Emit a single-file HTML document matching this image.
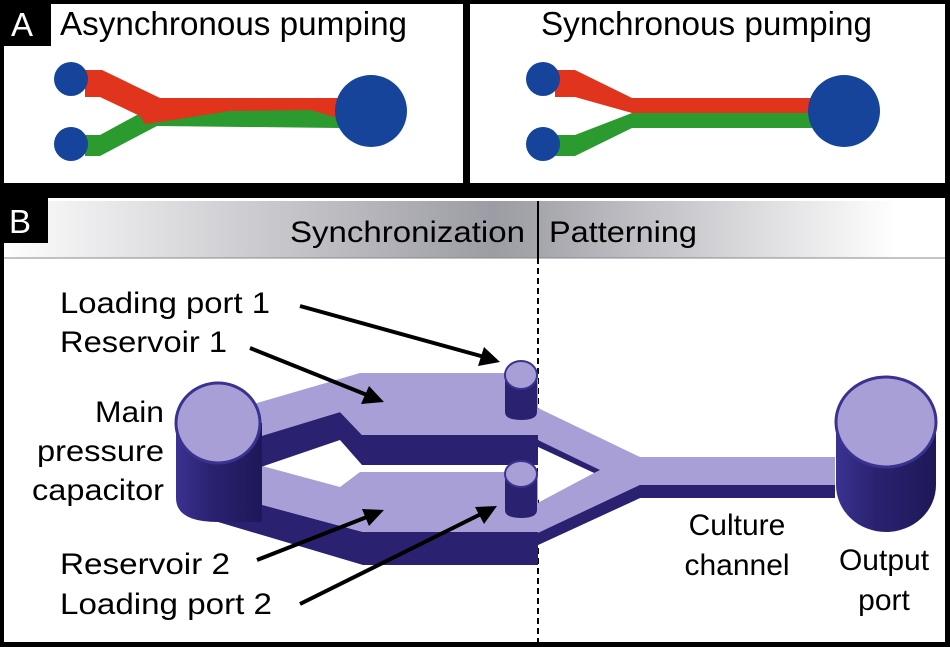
<!DOCTYPE html>
<html><head><meta charset="utf-8"><style>
html,body{margin:0;padding:0;background:#fff;}
svg{display:block;font-family:"Liberation Sans",sans-serif;}
</style></head><body>
<svg width="950" height="647" viewBox="0 0 950 647" xmlns="http://www.w3.org/2000/svg">
<defs>
<linearGradient id="hg" x1="0" x2="1" y1="0" y2="0">
<stop offset="0" stop-color="#ffffff"/>
<stop offset="0.05" stop-color="#f4f4f5"/>
<stop offset="0.52" stop-color="#9c9ca4"/>
<stop offset="0.57" stop-color="#a6a6ad"/>
<stop offset="0.95" stop-color="#ffffff"/>
<stop offset="1" stop-color="#ffffff"/>
</linearGradient>
<linearGradient id="cyl" x1="0" x2="1" y1="0" y2="0">
<stop offset="0" stop-color="#3a3290"/>
<stop offset="0.4" stop-color="#2a2270"/>
<stop offset="1" stop-color="#1e1858"/>
</linearGradient>
</defs>
<rect x="0" y="0" width="950" height="647" fill="#000"/>
<rect x="4" y="4" width="459" height="179" fill="#fff"/>
<rect x="470" y="4" width="475" height="179" fill="#fff"/>
<rect x="0" y="0" width="51" height="46" fill="#000"/>
<text x="11" y="36" font-size="33" fill="#fff">A</text>
<text x="60" y="35" font-size="33" fill="#000" textLength="347" lengthAdjust="spacingAndGlyphs">Asynchronous pumping</text>
<text x="541" y="35" font-size="33" fill="#000" textLength="331" lengthAdjust="spacingAndGlyphs">Synchronous pumping</text>
<polygon points="85,135 100,135 157,104 340,104 340,128 157,126 100,156 85,156" fill="#2b9a2f"/>
<polygon points="85,70 102,70 160,98 338,98 338,118 310,110 230,111 160,122 145,124 140,116 100,97 85,97" fill="#e0341c"/>
<circle cx="71" cy="79" r="17" fill="#15449a"/>
<circle cx="71" cy="144" r="17" fill="#15449a"/>
<circle cx="371" cy="111" r="36" fill="#15449a"/>
<polygon points="555,70 575,70 632,98 812,98 812,113 632,113 575,97 555,97" fill="#e0341c"/>
<polygon points="555,135 575,135 632,113 812,113 812,128 632,128 575,156 555,156" fill="#2b9a2f"/>
<circle cx="543" cy="79" r="17" fill="#15449a"/>
<circle cx="543" cy="144" r="17" fill="#15449a"/>
<circle cx="844" cy="111" r="36" fill="#15449a"/>
<rect x="4" y="198" width="941" height="444" fill="#fff"/>
<rect x="4" y="201" width="941" height="57" fill="url(#hg)"/>
<line x1="4" y1="258" x2="945" y2="258" stroke="#888" stroke-width="1"/>
<rect x="0" y="195" width="48" height="48" fill="#000"/>
<text x="9" y="233" font-size="33" fill="#fff">B</text>
<text x="525" y="242" font-size="30" text-anchor="end" textLength="235" lengthAdjust="spacingAndGlyphs">Synchronization</text>
<text x="549" y="242" font-size="30" textLength="148" lengthAdjust="spacingAndGlyphs">Patterning</text>
<line x1="538" y1="201" x2="538" y2="258" stroke="#000" stroke-width="2"/>
<line x1="538" y1="258" x2="538" y2="642" stroke="#000" stroke-width="2" stroke-dasharray="6,4"/>
<polygon points="538,438 600,470 538,503 538,545 640,498 640,485 640,457" fill="#2a2270"/>
<polygon points="538,408 640,457 835,457 835,485 640,485 538,533 538,503 600,470 538,440" fill="#a79fd6"/>
<polygon points="538,440 600,470 594,473 538,447" fill="#2a2270"/>
<polygon points="538,447 594,473 538,500" fill="#fff"/>
<rect x="640" y="485" width="195" height="13" fill="#2a2270"/>
<polygon points="538,533 640,485 640,498 538,545" fill="#2a2270"/>
<path d="M836,422 L836,485 A50,47 0 0 0 936,485 L936,422Z" fill="url(#cyl)"/>
<ellipse cx="886" cy="422" rx="50" ry="45" fill="#a79fd6" stroke="#3a3290" stroke-width="3"/>
<polygon points="218,493 363,532 538,532 538,565 363,565 218,522" fill="#2a2270"/>
<polygon points="240,460 340,487 360,472 538,472 538,532 363,532 218,493 230,470" fill="#a79fd6"/>
<polygon points="258,437 340,412 362,435 538,435 538,465 362,465 340,440 258,468" fill="#2a2270"/>
<polygon points="240,408 360,373 538,373 538,435 362,435 340,412 258,437" fill="#a79fd6"/>
<path d="M176,423 L176,498 Q176,522 218,522 L262,522 L262,423Z" fill="url(#cyl)"/>
<ellipse cx="218" cy="423" rx="42" ry="40" fill="#a79fd6" stroke="#3a3290" stroke-width="3"/>
<path d="M505,375 L505,412 Q505,420 521,420 Q537,420 537,412 L537,375Z" fill="#2a2270"/>
<ellipse cx="521" cy="375" rx="16" ry="14" fill="#a79fd6" stroke="#3a3290" stroke-width="2"/>
<path d="M505,474 L505,510 Q505,518 521,518 Q537,518 537,510 L537,474Z" fill="#2a2270"/>
<ellipse cx="521" cy="474" rx="16" ry="13" fill="#a79fd6" stroke="#3a3290" stroke-width="2"/>
<g font-size="30" fill="#000">
<text x="60" y="313" textLength="210" lengthAdjust="spacingAndGlyphs">Loading port 1</text>
<text x="60" y="352" textLength="167" lengthAdjust="spacingAndGlyphs">Reservoir 1</text>
<text x="95" y="422" textLength="69" lengthAdjust="spacingAndGlyphs">Main</text>
<text x="37" y="461" textLength="127" lengthAdjust="spacingAndGlyphs">pressure</text>
<text x="32" y="500" textLength="132" lengthAdjust="spacingAndGlyphs">capacitor</text>
<text x="60" y="574" textLength="170" lengthAdjust="spacingAndGlyphs">Reservoir 2</text>
<text x="60" y="614" textLength="212" lengthAdjust="spacingAndGlyphs">Loading port 2</text>
<text x="737" y="535" text-anchor="middle">Culture</text>
<text x="737" y="575" text-anchor="middle">channel</text>
<text x="884" y="570" text-anchor="middle">Output</text>
<text x="884" y="610" text-anchor="middle">port</text>
</g>
<g stroke="#000" stroke-width="4">
<line x1="300" y1="306" x2="488" y2="358"/>
<line x1="250" y1="348" x2="372" y2="397"/>
<line x1="257" y1="560" x2="372" y2="515"/>
<line x1="300" y1="604" x2="485" y2="512"/>
</g>
<g fill="#000">
<polygon points="500,362 478,366 484,347"/>
<polygon points="384,402 361,404 369,386"/>
<polygon points="384,510 369,526 362,509"/>
<polygon points="497,506 484,524 475,507"/>
</g>
</svg>
</body></html>
